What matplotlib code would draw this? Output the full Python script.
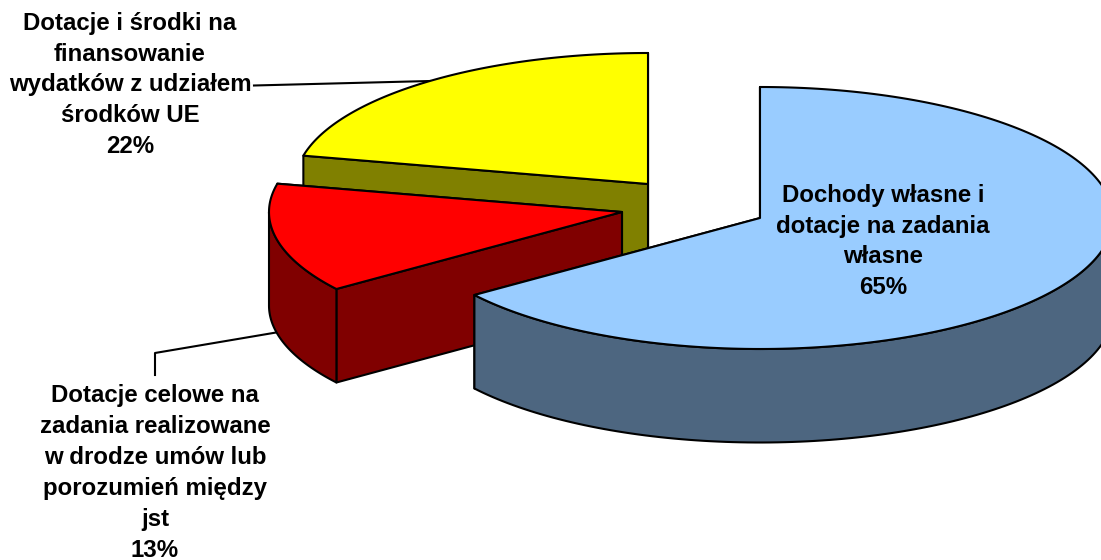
import matplotlib
matplotlib.use("Agg")
import matplotlib.pyplot as plt
import numpy as np
from matplotlib.patches import Polygon

plt.rcParams["font.family"] = ["Liberation Sans", "DejaVu Sans"]

# values, clockwise from 12 o'clock (labels show them rounded)
labels = [
    "Dochody własne i\ndotacje na zadania\nwłasne\n65%",
    "Dotacje celowe na\nzadania realizowane\nw drodze umów lub\nporozumień między\njst\n13%",
    "Dotacje i środki na\nfinansowanie\nwydatków z udziałem\nśrodków UE\n22%",
]
shares = [65, 13.47, 21.53]

top_colors = ["#99CCFF", "#FF0000", "#FFFF00"]
side_colors = ["#4D6680", "#800000", "#808000"]

# exploded wedge apexes in pixels
apex = [(760, 218), (622, 212), (648, 184)]
label_pos = [(883, 241.5), (155, 473), (130, 85)]

RX = 353
RY = 131
DEPTH = 93.5
EDGE = 1.5


def point(center, angle):
    x = center[0] + RX * np.sin(angle)
    y = center[1] - RY * np.cos(angle)
    return np.column_stack([x, y])


def draw_wedge(ax, center, start, end, top, side):
    down = np.array([0, DEPTH])
    style = dict(edgecolor="black", linewidth=EDGE, joinstyle="round")

    # radial faces, the far one first
    for a in (end, start):
        p = point(center, a)[0]
        c = np.array(center, dtype=float)
        ax.add_patch(Polygon([c, p, p + down, c + down], facecolor=side, **style))

    # outer wall, only the part on the lower half of the ellipse shows
    lo = max(start, np.pi / 2)
    hi = min(end, 3 * np.pi / 2)
    if hi > lo:
        arc = point(center, np.linspace(lo, hi, 120))
        wall = np.vstack([arc, (arc + down)[::-1]])
        ax.add_patch(Polygon(wall, facecolor=side, **style))

    rim = point(center, np.linspace(start, end, 200))
    ax.add_patch(Polygon(np.vstack([[center], rim]), facecolor=top, **style))


def main():
    fig = plt.figure(figsize=(11.01, 5.6), dpi=100)
    ax = fig.add_axes([0, 0, 1, 1])
    ax.set_xlim(0, 1101)
    ax.set_ylim(560, 0)
    ax.axis("off")

    # leader lines go under the wedges
    ax.plot([254, 430], [85.5, 81], color="black", lw=1.5, zorder=0)
    ax.plot([155, 155, 285], [375, 353, 331], color="black", lw=1.5, zorder=0)

    edges = np.cumsum([0] + shares) / sum(shares) * 2 * np.pi
    for i in [2, 1, 0]:
        draw_wedge(ax, apex[i], edges[i], edges[i + 1], top_colors[i], side_colors[i])

    for text, (x, y) in zip(labels, label_pos):
        ax.text(x, y, text, ha="center", va="center", fontsize=17.3,
                fontweight="bold", linespacing=1.44, color="black")

    fig.savefig("out.png", dpi=100)
    plt.close(fig)


if __name__ == "__main__":
    main()
